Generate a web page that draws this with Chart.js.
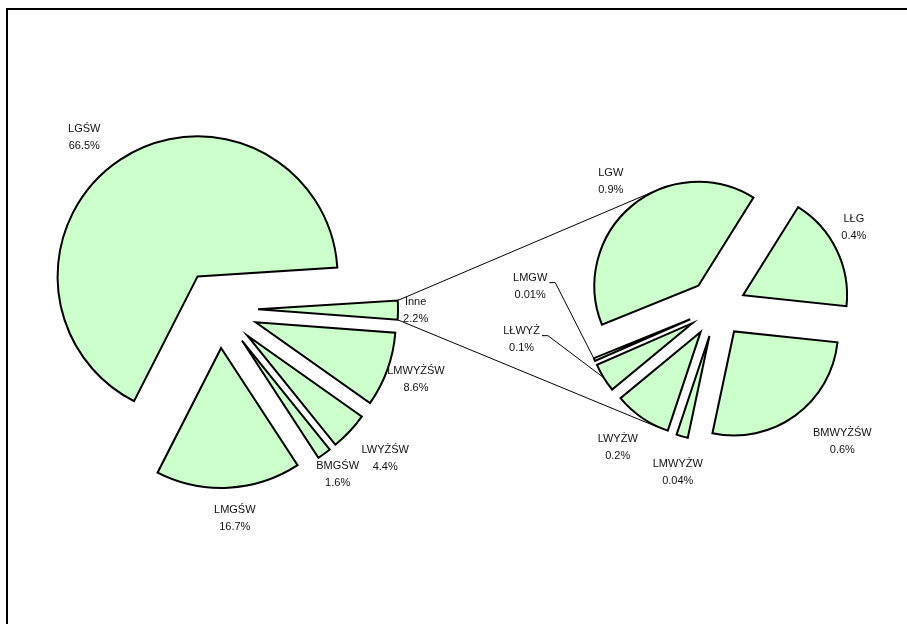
<!DOCTYPE html>
<html lang="pl">
<head>
<meta charset="utf-8">
<title>Struktura</title>
<script src="https://cdn.jsdelivr.net/npm/chart.js@4.4.1/dist/chart.umd.min.js"></script>
<style>
  html, body { margin: 0; padding: 0; background: #fff; }
  #wrap { position: relative; width: 907px; height: 624px; overflow: hidden; }
  #wrap canvas { position: absolute; left: 0; top: 0; }
  #frame { position: absolute; left: 6px; top: 8px; width: 1000px; height: 1000px;
           border-left: 2px solid #000; border-top: 2px solid #000; }
</style>
</head>
<body>
<div id="wrap">
  <div id="frame"></div>
  <canvas id="mainPie" width="907" height="624"></canvas>
  <canvas id="subPie" width="907" height="624"></canvas>
</div>
<script>
const W = 907, H = 624;

// main pie, "Inne" is broken down in the small pie
const mainLabels = ['LGŚW', 'Inne', 'LMWYŻŚW', 'LWYŻŚW', 'BMGŚW', 'LMGŚW'];
const mainValues = [66.5, 2.2, 8.6, 4.4, 1.6, 16.7];

const subLabels = ['LGW', 'LŁG', 'BMWYŻŚW', 'LMWYŻW', 'LWYŻW', 'LŁWYŻ', 'LMGW'];
const subValues = [0.9, 0.4, 0.6, 0.04, 0.2, 0.1, 0.01];

const FILL = '#ccffcc';
const FONT = '11px "Liberation Sans", Arial, sans-serif';
const LINE_H = 17;
const SUB_EXPLODE = 29;

// labels that were moved by hand in the workbook
const labelShift = {
  'LGŚW': [-21, 2], 'LMGŚW': [5, 8], 'LWYŻŚW': [11, 4], 'BMGŚW': [-5, -5], 'LMWYŻŚW': [-7, -3],
  'LGW': [-4, -5], 'LŁG': [-4, -12], 'BMWYŻŚW': [26, -3], 'LMWYŻW': [3, 9], 'LWYŻW': [-7, 5],
  'LMGW': [-39, -84], 'LŁWYŻ': [-57, -54]
};
const withLeader = ['LMGW', 'LŁWYŻ'];

// padding that puts the chart area centre at (cx, cy)
function centerPadding(cx, cy) {
  return {
    left: Math.max(0, 2 * cx - W), right: Math.max(0, W - 2 * cx),
    top: Math.max(0, 2 * cy - H), bottom: Math.max(0, H - 2 * cy)
  };
}

// pulls every slice out along its middle angle (same radius for all)
const explode = {
  id: 'explode',
  afterDatasetUpdate(chart, args, opts) {
    args.meta.data.forEach(arc => {
      const mid = (arc.startAngle + arc.endAngle) / 2;
      arc.x += Math.cos(mid) * opts.distance;
      arc.y += Math.sin(mid) * opts.distance;
    });
  }
};

// name + percent outside each slice
const sliceLabels = {
  id: 'sliceLabels',
  afterDatasetsDraw(chart) {
    const ctx = chart.ctx;
    const meta = chart.getDatasetMeta(0);
    const values = chart.data.datasets[0].data;
    ctx.save();
    ctx.font = FONT;
    ctx.fillStyle = '#111';
    ctx.strokeStyle = '#000';
    ctx.lineWidth = 1;
    ctx.textAlign = 'center';
    ctx.textBaseline = 'middle';
    meta.data.forEach((arc, i) => {
      const name = chart.data.labels[i];
      const pct = values[i] + '%';
      const w = Math.max(ctx.measureText(name).width, ctx.measureText(pct).width);
      const h = LINE_H * 2;
      const mid = (arc.startAngle + arc.endAngle) / 2;
      const ux = Math.cos(mid), uy = Math.sin(mid);
      const dist = arc.outerRadius + 5 + Math.abs(ux) * w / 2 + Math.abs(uy) * h / 2;
      const shift = labelShift[name] || [0, 0];
      const cx = arc.x + ux * dist + shift[0];
      const cy = arc.y + uy * dist + shift[1];
      ctx.fillText(name, cx, cy - LINE_H / 2);
      ctx.fillText(pct, cx, cy + LINE_H / 2);
      if (withLeader.includes(name)) {
        const tx = cx + ctx.measureText(name).width / 2 + 2;
        const ty = cy - LINE_H / 2 + 5;
        ctx.beginPath();
        ctx.moveTo(tx, ty);
        ctx.lineTo(tx + 6, ty);
        ctx.lineTo(arc.x + ux * arc.outerRadius, arc.y + uy * arc.outerRadius);
        ctx.stroke();
      }
    });
    ctx.restore();
  }
};

function pieOptions(cx, cy, dist) {
  return {
    responsive: false,
    animation: false,
    events: [],
    layout: { padding: centerPadding(cx, cy) },
    plugins: {
      legend: { display: false },
      tooltip: { enabled: false },
      explode: { distance: dist }
    }
  };
}

function pieDataset(values, radius, rotation) {
  return {
    data: values,
    backgroundColor: FILL,
    borderColor: '#000',
    borderWidth: 2,
    borderJoinStyle: 'miter',
    radius: radius,
    rotation: rotation
  };
}

const mainChart = new Chart(document.getElementById('mainPie'), {
  type: 'pie',
  data: { labels: mainLabels, datasets: [pieDataset(mainValues, 140, 207)] },
  options: pieOptions(219, 309, 39),
  plugins: [explode, sliceLabels]
});

// lines from the corners of "Inne" to the small pie
const connectors = {
  id: 'connectors',
  afterDraw(chart) {
    const inne = mainChart.getDatasetMeta(0).data[mainLabels.indexOf('Inne')];
    const area = chart.chartArea;
    const cx = (area.left + area.right) / 2, cy = (area.top + area.bottom) / 2;
    const r = chart.getDatasetMeta(0).data[0].outerRadius + SUB_EXPLODE;
    const R = inne.outerRadius;
    const ends = [[inne.startAngle, 240], [inne.endAngle, 116]];
    const ctx = chart.ctx;
    ctx.save();
    ctx.strokeStyle = '#000';
    ctx.lineWidth = 1;
    ends.forEach(([a, b]) => {
      const rad = b * Math.PI / 180;
      ctx.beginPath();
      ctx.moveTo(inne.x + Math.cos(a) * R, inne.y + Math.sin(a) * R);
      ctx.lineTo(cx + Math.cos(rad) * r, cy + Math.sin(rad) * r);
      ctx.stroke();
    });
    ctx.restore();
  }
};

new Chart(document.getElementById('subPie'), {
  type: 'pie',
  data: { labels: subLabels, datasets: [pieDataset(subValues, 104, 248)] },
  options: pieOptions(717, 308, SUB_EXPLODE),
  plugins: [explode, sliceLabels, connectors]
});
</script>
</body>
</html>
